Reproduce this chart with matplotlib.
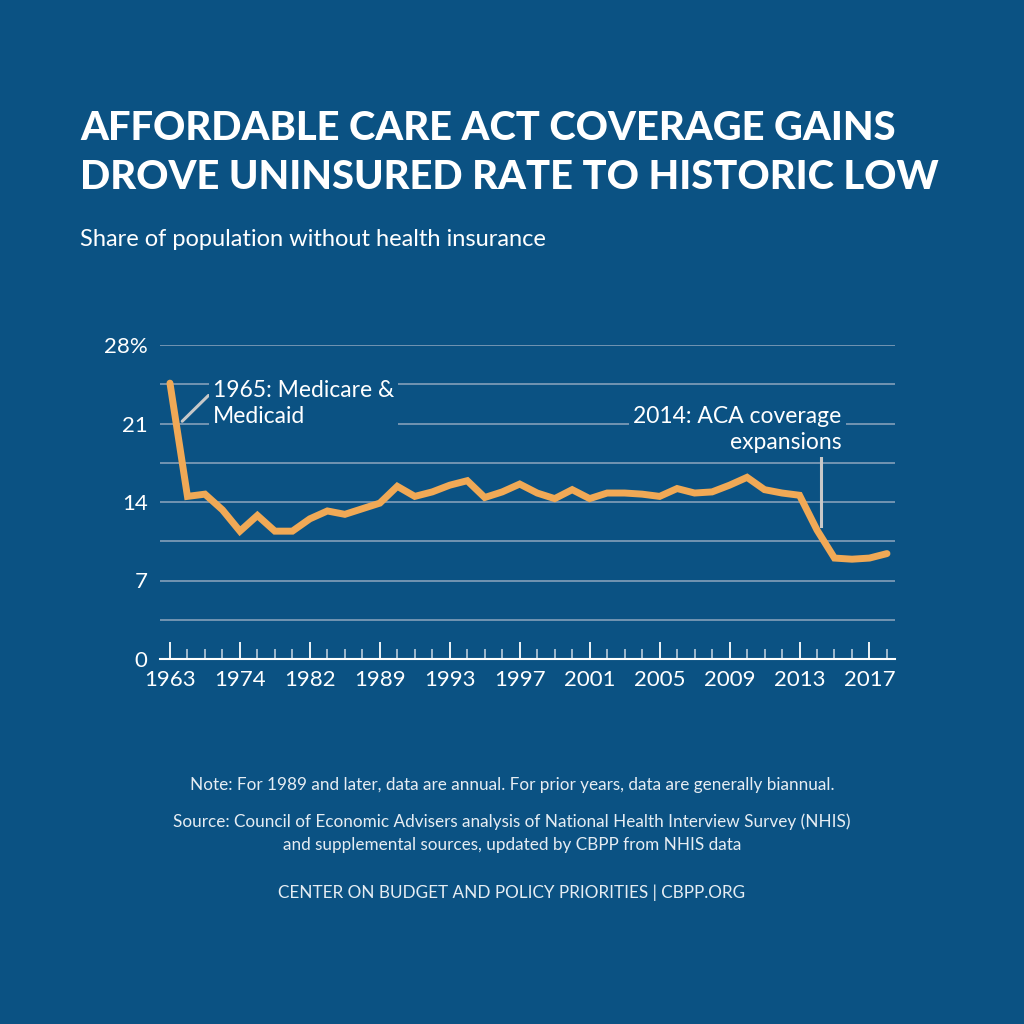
import matplotlib
matplotlib.use("Agg")
import matplotlib.pyplot as plt
from matplotlib.ticker import FixedLocator, NullFormatter

# data (share uninsured, %)
years = [1963, 1966, 1968, 1970, 1974, 1976, 1978, 1980, 1982, 1984, 1986, 1987,
         1989, 1990, 1991, 1992, 1993, 1994, 1995, 1996, 1997, 1998, 1999, 2000,
         2001, 2002, 2003, 2004, 2005, 2006, 2007, 2008, 2009, 2010, 2011, 2012,
         2013, 2014, 2015, 2016, 2017, 2018]
uninsured = [24.6, 14.5, 14.7, 13.3, 11.4, 12.8, 11.4, 11.4, 12.5, 13.2, 12.9, 13.4,
             13.9, 15.4, 14.5, 14.9, 15.5, 15.9, 14.4, 14.9, 15.6, 14.8, 14.3, 15.1,
             14.3, 14.8, 14.8, 14.7, 14.5, 15.2, 14.8, 14.9, 15.5, 16.2, 15.1, 14.8,
             14.6, 11.5, 9.0, 8.9, 9.0, 9.4]
y_ticks = [0, 7, 14, 21, 28]
y_tick_labels = ["0", "7", "14", "21", "28%"]

BG = "#0b5283"
LINE = "#f0a956"
GRID = "#8ea6bf"
FONT = "Lato"

plt.rcParams["font.family"] = [FONT, "DejaVu Sans"]

fig = plt.figure(figsize=(10.24, 10.24), dpi=100, facecolor=BG)
ax = fig.add_axes([160 / 1024, 1 - 659 / 1024, 735 / 1024, 314 / 1024], facecolor=BG)

x = list(range(len(years)))
ax.plot(x, uninsured, color=LINE, lw=5, solid_joinstyle="miter", solid_capstyle="round", zorder=3)

ax.set_xlim(-0.57, len(years) - 1 + 0.46)
ax.set_ylim(0, 28)

# gridlines every 3.5
for g in [3.5 * i for i in range(1, 9)]:
    ax.axhline(g, color=GRID, lw=1.1, zorder=1)

for s in ["top", "right", "left"]:
    ax.spines[s].set_visible(False)
ax.spines["bottom"].set_color("white")
ax.spines["bottom"].set_linewidth(1.5)

ax.xaxis.set_major_locator(FixedLocator(x[::4]))
ax.set_xticklabels([str(y) for y in years[::4]])
ax.xaxis.set_minor_locator(FixedLocator([i for i in x if i % 4]))
ax.xaxis.set_minor_formatter(NullFormatter())
ax.tick_params(axis="x", which="major", direction="in", length=12, width=1.3,
               color="white", labelcolor="white", labelsize=16, pad=8)
ax.tick_params(axis="x", which="minor", direction="in", length=7, width=1.1,
               color="#c9d6e3")

ax.set_yticks(y_ticks)
ax.set_yticklabels(y_tick_labels)
ax.tick_params(axis="y", length=0, labelcolor="white", labelsize=16, pad=9)

# annotations
ax.annotate("", xy=(0.7, 21.2), xytext=(2.2, 23.5),
            arrowprops=dict(arrowstyle="-", color="#c8c8c8", lw=2.2,
                            shrinkA=0, shrinkB=0), zorder=4)
ax.text(2.45, 24.9, "1965: Medicare &\nMedicaid", color="white", fontsize=16.5,
        ha="left", va="top", linespacing=1.3, zorder=5,
        bbox=dict(facecolor=BG, edgecolor="none", pad=3))
ax.plot([37.2, 37.2], [11.9, 17.9], color="#c8c8c8", lw=2.2, zorder=4)
ax.text(38.4, 22.6, "2014: ACA coverage\nexpansions", color="white", fontsize=16.5,
        ha="right", va="top", linespacing=1.3, zorder=5,
        bbox=dict(facecolor=BG, edgecolor="none", pad=3))

# titles
fig.text(80 / 1024, 1 - 110 / 1024,
         "AFFORDABLE CARE ACT COVERAGE GAINS\nDROVE UNINSURED RATE TO HISTORIC LOW",
         color="white", fontsize=28.7, fontweight="black", ha="left", va="top",
         linespacing=1.4)
fig.text(80 / 1024, 1 - 240 / 1024, "Share of population without health insurance",
         color="white", fontsize=17, ha="left", va="center")

# footer
foot_col = "#e6edf3"
fig.text(0.5, 1 - 785 / 1024,
         "Note: For 1989 and later, data are annual. For prior years, data are generally biannual.",
         color=foot_col, fontsize=12.3, ha="center", va="center")
fig.text(0.5, 1 - 833 / 1024,
         "Source: Council of Economic Advisers analysis of National Health Interview Survey (NHIS)\n"
         "and supplemental sources, updated by CBPP from NHIS data",
         color=foot_col, fontsize=12.3, ha="center", va="center", linespacing=1.5)
fig.text(0.5, 1 - 893 / 1024, "CENTER ON BUDGET AND POLICY PRIORITIES | CBPP.ORG",
         color=foot_col, fontsize=12.3, ha="center", va="center")

fig.savefig("out.png", dpi=100, facecolor=BG)
